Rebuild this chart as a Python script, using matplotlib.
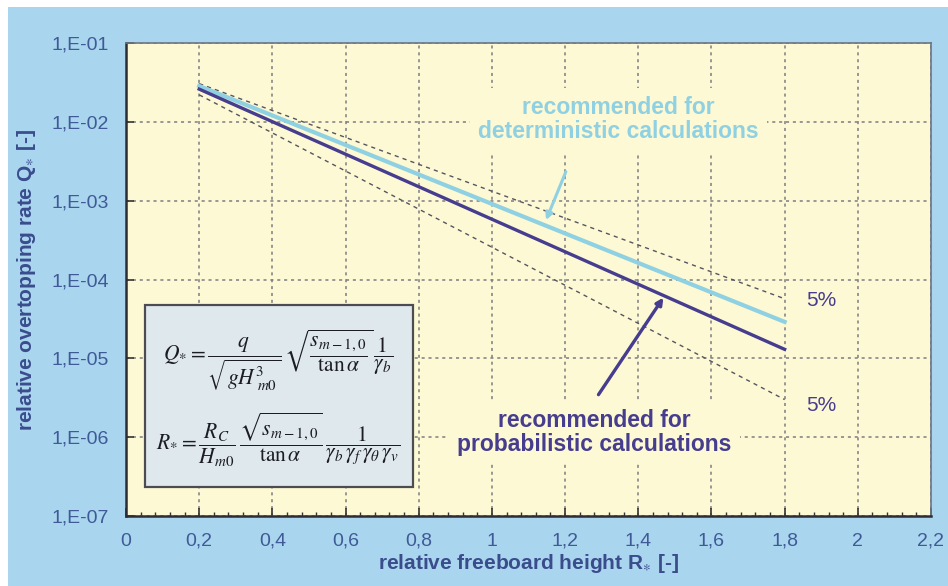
import numpy as np
import matplotlib.pyplot as plt
from matplotlib.patches import Rectangle
from matplotlib.ticker import FixedLocator, MultipleLocator

# dados (Q* em escala log)
r_pontos = [0.2, 1.8]
q_probabilistico = [2.6e-2, 1.3e-5]
q_deterministico = [2.85e-2, 2.9e-5]
q_5pct_superior = [3.05e-2, 5.7e-5]
q_5pct_inferior = [2.2e-2, 3.0e-6]

x_ticks = [0, 0.2, 0.4, 0.6, 0.8, 1.0, 1.2, 1.4, 1.6, 1.8, 2.0, 2.2]
x_labels = ['0', '0,2', '0,4', '0,6', '0,8', '1', '1,2', '1,4', '1,6', '1,8', '2', '2,2']
y_ticks = [1e-7, 1e-6, 1e-5, 1e-4, 1e-3, 1e-2, 1e-1]
y_labels = ['1,E-07', '1,E-06', '1,E-05', '1,E-04', '1,E-03', '1,E-02', '1,E-01']

cor_fundo = '#a9d5ee'
cor_area = '#fdf9d4'
cor_escura = '#463d8f'
cor_clara = '#8fd1e2'
cor_texto = '#3a4c8c'
cor_grade = '#7d7d80'

plt.rcParams['font.family'] = ['Liberation Sans', 'DejaVu Sans']
plt.rcParams['mathtext.fontset'] = 'stix'

fig = plt.figure(figsize=(9.48, 5.86), dpi=100, facecolor='white')
fig.patches.append(Rectangle((8 / 948, 0), 1, 1 - 7 / 586, transform=fig.transFigure,
                             facecolor=cor_fundo, edgecolor='none', zorder=-10))

ax = fig.add_axes([126 / 948, 1 - 516 / 586, (931 - 126) / 948, (516 - 43) / 586])
ax.set_facecolor(cor_area)
ax.set_yscale('log')
ax.set_xlim(0, 2.2)
ax.set_ylim(1e-7, 1e-1)

# grade pontilhada
ax.grid(True, which='major', color=cor_grade, linestyle=(0, (2, 2.5)), linewidth=1.1)
ax.set_axisbelow(True)

# faixas de 5%
ax.plot(r_pontos, q_5pct_superior, color='#555560', linestyle=(0, (3, 3)), linewidth=1.0, zorder=3)
ax.plot(r_pontos, q_5pct_inferior, color='#555560', linestyle=(0, (3, 3)), linewidth=1.0, zorder=3)

# linhas recomendadas
ax.plot(r_pontos, q_deterministico, color=cor_clara, linewidth=3.0, zorder=4)
ax.plot(r_pontos, q_probabilistico, color=cor_escura, linewidth=2.4, zorder=5)

# ticks
ax.xaxis.set_major_locator(FixedLocator(x_ticks))
ax.set_xticklabels(x_labels)
ax.xaxis.set_minor_locator(MultipleLocator(0.04))
ax.yaxis.set_major_locator(FixedLocator(y_ticks))
ax.set_yticklabels(y_labels)
ax.yaxis.set_minor_locator(FixedLocator([]))
ax.tick_params(axis='both', which='major', direction='in', length=6, width=1.2,
               color='#333333', labelsize=14, labelcolor='#3f5a96', pad=12)
ax.tick_params(axis='x', which='minor', direction='in', length=3, width=1.0, color='#333333')
ax.tick_params(axis='y', which='minor', length=0)

for lado in ['left', 'bottom']:
    ax.spines[lado].set_color('#2d2d33')
    ax.spines[lado].set_linewidth(1.8)
for lado in ['top', 'right']:
    ax.spines[lado].set_color('#6d7480')
    ax.spines[lado].set_linewidth(1.2)

ax.set_xlabel('relative freeboard height R$_{\\ast}$ [-]', fontsize=15, fontweight='bold',
              color=cor_texto, labelpad=2)
ax.set_ylabel('relative overtopping rate Q$_{\\ast}$ [-]', fontsize=15, fontweight='bold',
              color=cor_texto, labelpad=10)

# textos com fundo para esconder a grade
caixa = dict(facecolor=cor_area, edgecolor='none', pad=6)
ax.text(1.345, 10 ** -1.975, 'recommended for\ndeterministic calculations', fontsize=16.5,
        fontweight='bold', color=cor_clara, ha='center', va='center', linespacing=1.05,
        bbox=caixa, zorder=6)
ax.text(1.28, 10 ** -5.94, 'recommended for\nprobabilistic calculations', fontsize=16.5,
        fontweight='bold', color=cor_escura, ha='center', va='center', linespacing=1.05,
        bbox=caixa, zorder=6)

ax.text(1.86, 10 ** -4.27, '5%', fontsize=15, color=cor_escura, ha='left', va='center', zorder=6)
ax.text(1.86, 10 ** -5.6, '5%', fontsize=15, color=cor_escura, ha='left', va='center', zorder=6)

# setas
ax.annotate('', xy=(1.145, 10 ** -3.28), xytext=(1.205, 10 ** -2.6),
            arrowprops=dict(arrowstyle='-|>', color=cor_clara, lw=2.2, mutation_scale=10),
            zorder=7)
ax.annotate('', xy=(1.473, 10 ** -4.2), xytext=(1.287, 10 ** -5.49),
            arrowprops=dict(arrowstyle='-|>', color=cor_escura, lw=2.4, mutation_scale=10),
            zorder=7)

# caixa com as formulas
ax.add_patch(Rectangle(((145 - 126) / 366, 10 ** -6.63), (413 - 145) / 366,
                       10 ** -4.325 - 10 ** -6.63, facecolor='#dfe9ed', edgecolor='#4c4c52',
                       linewidth=1.6, zorder=8))
ax.text(0.415, 10 ** -5.02,
        r'$Q_{*} = \dfrac{q}{\sqrt{gH^{3}_{\ m0}}}\,\sqrt{\dfrac{s_{m-1,0}}{\tan\alpha}}\,\dfrac{1}{\gamma_b}$',
        fontsize=15.5, color='#1c1c24', ha='center', va='center', zorder=9)
ax.text(0.415, 10 ** -6.04,
        r'$R_{*} = \dfrac{R_C}{H_{m0}}\,\dfrac{\sqrt{s_{m-1,0}}}{\tan\alpha}\,\dfrac{1}{\gamma_b\,\gamma_f\,\gamma_\theta\,\gamma_v}$',
        fontsize=15.5, color='#1c1c24', ha='center', va='center', zorder=9)

fig.savefig('out.png', dpi=100, facecolor=fig.get_facecolor())
